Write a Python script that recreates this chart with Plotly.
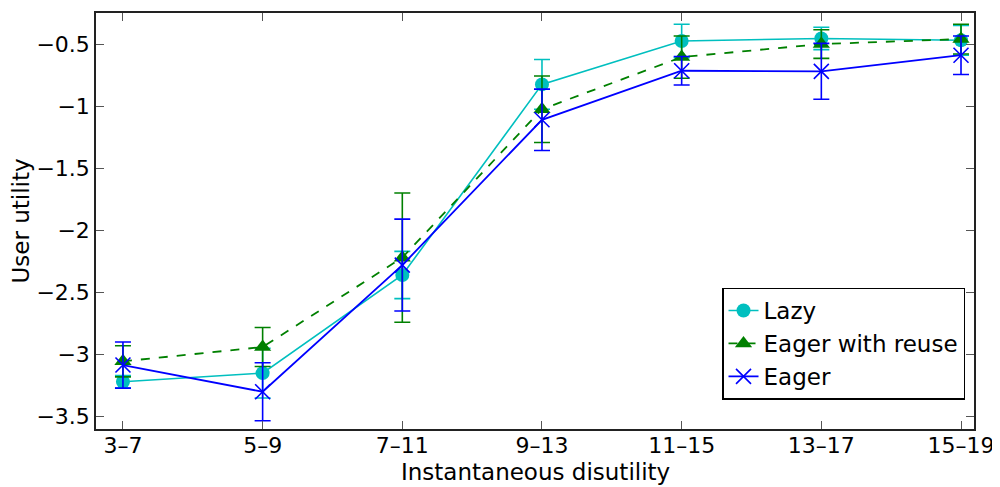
import plotly.graph_objects as go

categories = ["3–7", "5–9", "7–11", "9–13", "11–15", "13–17", "15–19"]

lazy = [-3.22, -3.15, -2.36, -0.825, -0.475, -0.455, -0.47]
lazy_err = [0.05, 0.20, 0.19, 0.20, 0.135, 0.09, 0.12]

reuse = [-3.055, -2.94, -2.22, -1.025, -0.605, -0.50, -0.46]
reuse_err = [0.125, 0.157, 0.52, 0.268, 0.17, 0.115, 0.12]

eager = [-3.085, -3.30, -2.28, -1.11, -0.715, -0.72, -0.59]
eager_err = [0.186, 0.234, 0.37, 0.247, 0.115, 0.225, 0.155]

y_ticks = [-3.5, -3, -2.5, -2, -1.5, -1, -0.5]
y_ticktext = ["−3.5", "−3", "−2.5", "−2", "−1.5", "−1", "−0.5"]

FONT = "DejaVu Sans, Liberation Sans, Arial, sans-serif"
FS = 23
TFS = 22
C_LAZY = "rgb(0,191,191)"
C_REUSE = "rgb(0,128,0)"
C_EAGER = "rgb(0,0,255)"

fig = go.Figure()
fig.add_trace(go.Scatter(
    x=categories, y=lazy, name="Lazy", mode="lines+markers", legendgroup="a",
    line=dict(color=C_LAZY, width=1.6),
    marker=dict(symbol="circle", size=14, color=C_LAZY),
    error_y=dict(type="data", array=lazy_err, visible=True, color=C_LAZY, thickness=1.6, width=8),
))
fig.add_trace(go.Scatter(
    x=categories, y=reuse, name="Eager with reuse", mode="lines+markers", legendgroup="b",
    line=dict(color=C_REUSE, width=1.8, dash="dash"),
    marker=dict(symbol="triangle-up", size=15, color=C_REUSE),
    error_y=dict(type="data", array=reuse_err, visible=True, color=C_REUSE, thickness=1.6, width=8),
))
fig.add_trace(go.Scatter(
    x=categories, y=eager, name="Eager", mode="lines+markers", legendgroup="c",
    line=dict(color=C_EAGER, width=1.8),
    marker=dict(symbol="x-thin", size=15, color=C_EAGER, line=dict(color=C_EAGER, width=1.6)),
    error_y=dict(type="data", array=eager_err, visible=True, color=C_EAGER, thickness=1.6, width=8),
))

fig.update_layout(
    width=1000, height=487,
    margin=dict(l=88, r=34, t=3, b=66),
    paper_bgcolor="white", plot_bgcolor="white",
    font=dict(family=FONT, size=FS, color="black"),
    showlegend=True,
    legend=dict(
        x=0.713, y=0.34, xanchor="left", yanchor="top",
        bgcolor="white", bordercolor="black", borderwidth=1.5,
        font=dict(family=FONT, size=FS, color="black"),
        tracegroupgap=0, itemwidth=30,
    ),
    annotations=[dict(
        text="Instantaneous disutility", xref="paper", yref="paper",
        x=0.5, y=-0.104, xanchor="center", yanchor="middle", showarrow=False,
        font=dict(family=FONT, size=FS, color="black"),
    )],
)
fig.update_xaxes(
    type="category", range=[-0.193, 6.093],
    showline=True, linecolor="#222", linewidth=1.5, mirror="ticks",
    ticks="inside", ticklen=8, tickcolor="#555", tickwidth=1,
    showgrid=False, zeroline=False,
    tickfont=dict(size=TFS), ticklabelstandoff=-4,
)
fig.update_yaxes(
    range=[-3.6, -0.25],
    tickvals=y_ticks, ticktext=y_ticktext,
    showline=True, linecolor="#222", linewidth=1.5, mirror="ticks",
    ticks="inside", ticklen=8, tickcolor="#555", tickwidth=1,
    showgrid=False, zeroline=False,
    title=dict(text="User utility", standoff=4, font=dict(size=FS)),
    tickfont=dict(size=TFS),
)

fig.write_html("out.html")
